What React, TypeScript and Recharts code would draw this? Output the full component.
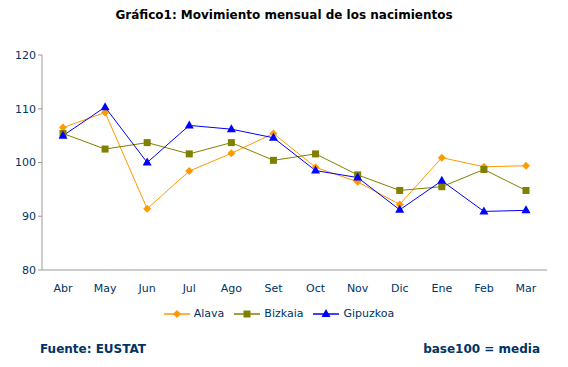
import { LineChart, Line, XAxis, YAxis } from "recharts";

const months = ["Abr", "May", "Jun", "Jul", "Ago", "Set", "Oct", "Nov", "Dic", "Ene", "Feb", "Mar"];
const alava = [106.5, 109.3, 91.4, 98.4, 101.7, 105.4, 99.1, 96.4, 92.2, 100.9, 99.2, 99.4];
const bizkaia = [105.4, 102.5, 103.7, 101.6, 103.7, 100.4, 101.6, 97.7, 94.8, 95.5, 98.7, 94.8];
const gipuzkoa = [105.0, 110.3, 100.0, 106.9, 106.2, 104.6, 98.5, 97.2, 91.2, 96.6, 90.9, 91.1];
const yTicks = [80, 90, 100, 110, 120];

const data = months.map((m, i) => ({
  month: m,
  Alava: alava[i],
  Bizkaia: bizkaia[i],
  Gipuzkoa: gipuzkoa[i],
}));

const navy = "#003366";
const font = "Verdana, 'DejaVu Sans', sans-serif";

const series = [
  { key: "Alava", color: "#FF9900", shape: "diamond" },
  { key: "Bizkaia", color: "#808000", shape: "square" },
  { key: "Gipuzkoa", color: "#0000FF", shape: "triangle" },
];

function Marker({ cx, cy, color, shape }: any) {
  if (cx == null || cy == null) return null;
  if (shape === "square")
    return <rect x={cx - 3.5} y={cy - 3.5} width={7} height={7} fill={color} />;
  if (shape === "triangle")
    return <polygon points={`${cx},${cy - 5} ${cx + 4.5},${cy + 3} ${cx - 4.5},${cy + 3}`} fill={color} />;
  return <polygon points={`${cx},${cy - 4} ${cx + 4},${cy} ${cx},${cy + 4} ${cx - 4},${cy}`} fill={color} />;
}

function LegendBox() {
  return (
    <div style={{ display: "flex", justifyContent: "center", fontSize: 11, color: navy }}>
      {series.map((s) => (
        <div key={s.key} style={{ display: "flex", alignItems: "center", marginRight: 10 }}>
          <svg width={26} height={10} style={{ marginRight: 4 }}>
            <line x1={0} y1={5} x2={26} y2={5} stroke={s.color} strokeWidth={1.5} />
            <Marker cx={13} cy={5} color={s.color} shape={s.shape} />
          </svg>
          <span>{s.key}</span>
        </div>
      ))}
    </div>
  );
}

export default function App() {
  return (
    <div style={{ position: "absolute", left: 0, top: 0, width: 568, height: 367, background: "#fff", fontFamily: font }}>
      <div style={{ position: "absolute", top: 8, left: 0, width: 568, textAlign: "center", fontSize: 12, fontWeight: "bold", color: "#000" }}>
        Gráfico1: Movimiento mensual de los nacimientos
      </div>
      <LineChart width={568} height={367} data={data} margin={{ top: 55, right: 21, bottom: 67, left: 0 }}>
        <XAxis
          dataKey="month"
          stroke="#999999"
          tickLine={false}
          height={30}
          padding={{ left: 21, right: 21 }}
          tick={{ fill: navy, fontSize: 11, fontFamily: font }}
          tickMargin={8}
        />
        <YAxis
          domain={[80, 120]}
          ticks={yTicks}
          width={42}
          stroke="#999999"
          tickSize={4}
          tick={{ fill: navy, fontSize: 11, fontFamily: font }}
        />
        {series.map((s) => (
          <Line
            key={s.key}
            type="linear"
            dataKey={s.key}
            stroke={s.color}
            strokeWidth={1}
            dot={(p: any) => <Marker key={p.index} cx={p.cx} cy={p.cy} color={s.color} shape={s.shape} />}
            activeDot={false}
            isAnimationActive={false}
          />
        ))}
      </LineChart>
      <div style={{ position: "absolute", top: 307, left: 0, width: 568 }}>
        <LegendBox />
      </div>
      <div style={{ position: "absolute", top: 342, left: 40, fontSize: 12, fontWeight: "bold", color: navy }}>
        Fuente: EUSTAT
      </div>
      <div style={{ position: "absolute", top: 342, right: 28, fontSize: 12, fontWeight: "bold", color: navy }}>
        base100 = media
      </div>
    </div>
  );
}
